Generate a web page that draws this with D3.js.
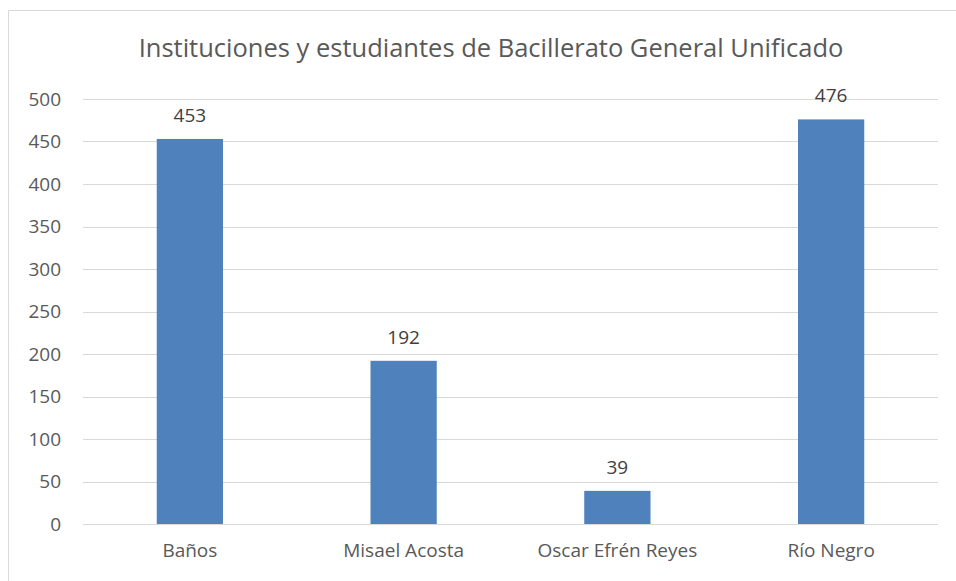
<!DOCTYPE html>
<html>
<head>
<meta charset="utf-8">
<script src="https://cdn.jsdelivr.net/npm/d3@7"></script>
<style>
	body { margin: 0; background: #fff; }
	svg { display: block; font-family: "Open Sans", "Noto Sans", sans-serif; }
</style>
</head>
<body>
<svg id="chart" width="956" height="581"></svg>
<script>
// data
const categories = ['Baños', 'Misael Acosta', 'Oscar Efrén Reyes', 'Río Negro'];
const students = [453, 192, 39, 476];
const yTicks = [0, 50, 100, 150, 200, 250, 300, 350, 400, 450, 500];
const title = 'Instituciones y estudiantes de Bacillerato General Unificado';

const svg = d3.select('#chart');
const margin = {top: 99, right: 18, bottom: 57, left: 83};
const width = 956 - margin.left - margin.right;
const height = 581 - margin.top - margin.bottom;

// outer chart border (cropped on the right and bottom)
svg.append('path')
	.attr('d', 'M8.5,600 L8.5,10.5 L960,10.5')
	.attr('fill', 'none')
	.attr('stroke', '#d9d9d9')
	.attr('stroke-width', 1);

svg.append('text')
	.attr('x', 491)
	.attr('y', 57)
	.attr('text-anchor', 'middle')
	.attr('font-size', 25.5)
	.attr('fill', '#595959')
	.text(title);

const g = svg.append('g')
	.attr('transform', `translate(${margin.left}, ${margin.top})`);

const x = d3.scaleBand()
	.domain(categories)
	.range([0, width])
	.paddingInner(0.69)
	.paddingOuter(0.345);

const y = d3.scaleLinear()
	.domain([0, 500])
	.range([height, 0]);

// gridlines
g.append('g')
	.selectAll('line')
	.data(yTicks)
	.enter()
	.append('line')
	.attr('x1', 0)
	.attr('x2', width)
	.attr('y1', (d) => Math.round(y(d)) + 0.5)
	.attr('y2', (d) => Math.round(y(d)) + 0.5)
	.attr('stroke', '#d9d9d9')
	.attr('stroke-width', 1);

// y axis labels
const yAxis = g.append('g')
	.call(d3.axisLeft(y).tickValues(yTicks).tickSize(0).tickPadding(22));
yAxis.select('.domain').remove();
yAxis.selectAll('text')
	.attr('font-size', 19)
	.attr('font-family', '"Open Sans", "Noto Sans", sans-serif')
	.attr('fill', '#595959');

// x axis labels
const xAxis = g.append('g')
	.attr('transform', `translate(0, ${height})`)
	.call(d3.axisBottom(x).tickSize(0).tickPadding(20));
xAxis.select('.domain').remove();
xAxis.selectAll('text')
	.attr('font-size', 19)
	.attr('font-family', '"Open Sans", "Noto Sans", sans-serif')
	.attr('fill', '#595959');

// bars
g.selectAll('rect.bar')
	.data(students)
	.enter()
	.append('rect')
	.attr('class', 'bar')
	.attr('x', (d, i) => x(categories[i]))
	.attr('y', (d) => y(d))
	.attr('width', x.bandwidth())
	.attr('height', (d) => height - y(d))
	.attr('fill', '#4f81bd');

// value labels
g.selectAll('text.value')
	.data(students)
	.enter()
	.append('text')
	.attr('class', 'value')
	.attr('x', (d, i) => x(categories[i]) + x.bandwidth() / 2)
	.attr('y', (d) => y(d) - 17)
	.attr('text-anchor', 'middle')
	.attr('font-size', 19)
	.attr('fill', '#404040')
	.text((d) => d);
</script>
</body>
</html>
